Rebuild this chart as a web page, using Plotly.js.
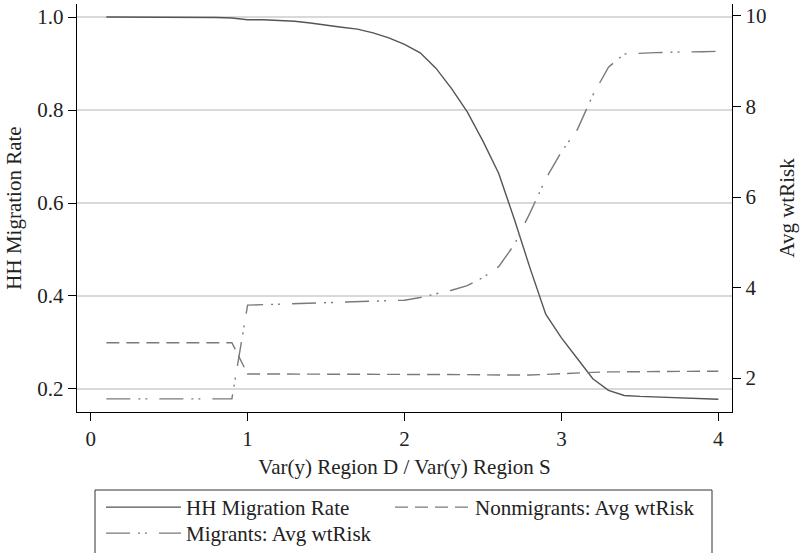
<!DOCTYPE html>
<html>
<head>
<meta charset="utf-8">
<script src="https://cdn.plot.ly/plotly-3.0.1.min.js"></script>
<style>html,body{margin:0;padding:0;background:#fff;}#chart{width:800px;height:553px;}</style>
</head>
<body>
<div id="chart"></div>
<script>
const varRatio = [0.1,0.2,0.3,0.4,0.5,0.6,0.7,0.8,0.9,1.0,1.1,1.2,1.3,1.4,1.5,1.6,1.7,1.8,1.9,2.0,2.1,2.2,2.3,2.4,2.5,2.6,2.7,2.8,2.9,3.0,3.1,3.2,3.3,3.4,3.5,3.6,3.7,3.8,3.9,4.0];
const hhMigrationRate = [1.0,1.0,0.999,0.999,0.999,0.999,0.999,0.999,0.998,0.994,0.994,0.992,0.991,0.987,0.982,0.978,0.974,0.966,0.955,0.941,0.923,0.89,0.846,0.796,0.733,0.664,0.565,0.46,0.361,0.31,0.266,0.222,0.197,0.186,0.184,0.183,0.182,0.180,0.179,0.178];
const nonmigrantsRisk = [2.78,2.78,2.78,2.78,2.78,2.78,2.78,2.78,2.78,2.09,2.09,2.09,2.09,2.09,2.09,2.09,2.09,2.09,2.09,2.09,2.09,2.085,2.08,2.075,2.07,2.065,2.06,2.065,2.08,2.10,2.115,2.125,2.135,2.14,2.145,2.15,2.15,2.15,2.15,2.15];
const migrantsRisk = [1.54,1.54,1.54,1.54,1.54,1.54,1.54,1.54,1.54,3.61,3.62,3.63,3.64,3.65,3.66,3.67,3.68,3.69,3.70,3.72,3.78,3.86,3.94,4.04,4.22,4.46,4.95,5.65,6.4,7.0,7.48,8.25,8.87,9.16,9.18,9.19,9.20,9.20,9.21,9.22];
const leftTicks = [0.2,0.4,0.6,0.8,1.0];
const rightTicks = [2,4,6,8,10];
const xTicks = [0,1,2,3,4];

const FONT = '"Liberation Serif", "Times New Roman", serif';
const data = [
  {x: varRatio, y: hhMigrationRate, type: 'scatter', mode: 'lines', name: 'HH Migration Rate',
   line: {color: '#555555', width: 1.4}, yaxis: 'y', legend: 'legend'},
  {x: varRatio, y: nonmigrantsRisk, type: 'scatter', mode: 'lines', name: 'Nonmigrants: Avg wtRisk',
   line: {color: '#7a7a7a', width: 1.4, dash: '13px,7px'}, yaxis: 'y2', legend: 'legend2'},
  {x: varRatio, y: migrantsRisk, type: 'scatter', mode: 'lines', name: 'Migrants: Avg wtRisk',
   line: {color: '#7a7a7a', width: 1.4, dash: '24px,8px,2px,5px,2px,12px'}, yaxis: 'y2', legend: 'legend3'}
];
function leg(xpx, toppx) {
  return {
    orientation: 'v', xref: 'paper', yref: 'container',
    x: (xpx - 77) / 655, xanchor: 'left', y: (553 - toppx) / 553, yanchor: 'top',
    borderwidth: 0, bgcolor: 'rgba(0,0,0,0)', itemwidth: 75,
    font: {family: FONT, size: 21, color: '#222222'}
  };
}
const layout = {
  width: 800, height: 553,
  margin: {l: 77, r: 68, t: 4, b: 141},
  paper_bgcolor: '#ffffff', plot_bgcolor: '#ffffff',
  font: {family: FONT, size: 21, color: '#222222'},
  showlegend: true,
  legend: leg(101, 487),
  legend2: leg(390, 487),
  legend3: leg(101, 513),
  shapes: [{
    type: 'rect', xref: 'paper', yref: 'paper', layer: 'above',
    x0: (95 - 77) / 655, x1: (712 - 77) / 655,
    y0: (412 - 490) / 408, y1: (412 - 580) / 408,
    line: {color: '#333333', width: 1}, fillcolor: 'rgba(0,0,0,0)'
  }],
  xaxis: {
    range: [-0.087, 4.087], tickvals: xTicks, ticktext: xTicks.map(String),
    showgrid: false, zeroline: false, showline: true, linecolor: '#000', linewidth: 1.2,
    ticks: 'outside', ticklen: 8, tickcolor: '#000', tickwidth: 1,
    tickfont: {family: FONT, size: 21, color: '#222'},
    title: {text: 'Var(y) Region D / Var(y) Region S', font: {family: FONT, size: 21, color: '#222'}, standoff: 8},
    automargin: false
  },
  yaxis: {
    range: [0.1505, 1.028], tickvals: leftTicks, tickformat: '.1f',
    showgrid: true, gridcolor: '#d9d9d9', gridwidth: 1.2, zeroline: false,
    showline: true, linecolor: '#000', linewidth: 1.2,
    ticks: 'outside', ticklen: 8, tickcolor: '#000', tickwidth: 1,
    tickfont: {family: FONT, size: 21, color: '#222'},
    title: {text: 'HH Migration Rate', font: {family: FONT, size: 21, color: '#222'}, standoff: 10},
    automargin: false
  },
  yaxis2: {
    range: [1.249, 10.265], tickvals: rightTicks, overlaying: 'y', side: 'right',
    showgrid: false, zeroline: false, showline: true, linecolor: '#000', linewidth: 1.2,
    ticks: 'outside', ticklen: 8, tickcolor: '#000', tickwidth: 1,
    tickfont: {family: FONT, size: 21, color: '#222'},
    title: {text: 'Avg wtRisk', font: {family: FONT, size: 21, color: '#222'}, standoff: 13},
    automargin: false
  }
};
Plotly.newPlot('chart', data, layout, {displayModeBar: false, staticPlot: true});
</script>
</body>
</html>
